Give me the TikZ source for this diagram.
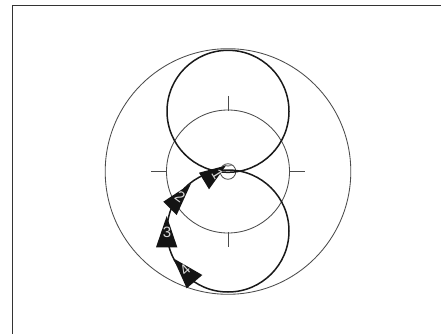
\documentclass[tikz,border=0pt]{standalone}
\usepackage{fontspec}
\setmainfont{Liberation Sans}
\tikzset{
  thinline/.style={draw=black!70,line width=0.85pt},
  thickline/.style={draw=black!90,line width=1.5pt},
  framing/.style={draw=black!80,line width=1.1pt},
  pointer/.style={fill=black!92,draw=none},
  numeral/.style={text=black!15,font=\fontsize{15}{15}\selectfont,inner sep=0pt}
}
\begin{document}
\begin{tikzpicture}[x=1pt,y=-1pt]
\useasboundingbox (0,0) rectangle (441,334);
\fill[white] (0,0) rectangle (441,334);
\draw[framing] (12.5,334) -- (12.5,5.5) -- (441,5.5);
\coordinate (c) at (228,171.5);
\draw[thinline] (c) circle[radius=122.8];
\draw[thinline] (c) circle[radius=61.5];
\draw[thinline] (c) circle[radius=7.8];
\draw[draw=black!45,line width=1.2pt] (224,165) arc[start angle=120,end angle=60,radius=7.8];
\draw[thinline] (228,96) -- (228,111);
\draw[thinline] (228,232) -- (228,246.5);
\draw[thinline] (151,171.5) -- (166,171.5);
\draw[thinline] (290,171.5) -- (305,171.5);
\draw[thickline] (228,111.3) circle[radius=61];
\draw[thickline] (228,231) circle[radius=61];
\fill[pointer] (199,172.7) -- (226,165.5) -- (209,189.3) -- cycle;
\fill[pointer] (163.3,201.7) -- (191,183.5) -- (176.7,215) -- cycle;
\fill[pointer] (166.7,216) -- (156,247.3) -- (177.3,247.3) -- cycle;
\fill[pointer] (173.3,258.3) -- (202.3,275) -- (186.7,288.3) -- cycle;
\node[numeral,rotate=-58] (n1) at (217.5,174) {1};
\node[numeral,rotate=-36] (n2) at (180,197) {2};
\node[numeral] (n3) at (167,232) {3};
\node[numeral,rotate=42] (n4) at (185,270) {4};
\end{tikzpicture}
\end{document}
